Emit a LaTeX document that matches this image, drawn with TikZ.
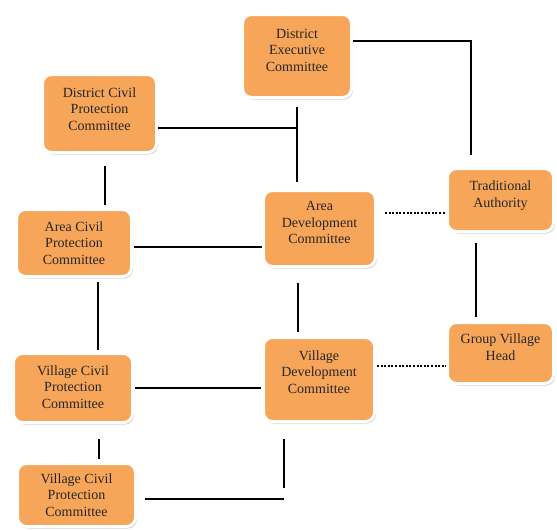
\documentclass[tikz,border=0pt]{standalone}
\usepackage{fontspec}
\setmainfont{Liberation Serif}
\usetikzlibrary{calc,shadows}
\definecolor{boxorange}{RGB}{247,166,89}
\begin{document}
\begin{tikzpicture}[x=1pt,y=-1pt,
        orgbox/.style={draw=white,line width=3pt,fill=boxorange,rounded corners=9pt,
            align=center,text=black!85,inner sep=2pt,text depth=12pt,
            font=\fontsize{14}{16.5}\selectfont,
            drop shadow={shadow xshift=1.5pt,shadow yshift=-2pt,opacity=0.3,fill=black!60}},
        link/.style={line width=2pt},
        tie/.style={line width=2pt,dash pattern=on 2pt off 1.6pt}]
    \useasboundingbox (0,0) rectangle (557,530);

    \node[orgbox,minimum width=109pt,minimum height=83pt] (dec) at (297,56) {District\\Executive\\Committee};
    \node[orgbox,minimum width=114pt,minimum height=78pt,text depth=9pt] (dcpc) at (99.5,113.5) {District Civil\\Protection\\Committee};
    \node[orgbox,minimum width=106pt,minimum height=63pt] (ta) at (500.5,200) {Traditional\\Authority};
    \node[orgbox,minimum width=112pt,minimum height=76pt] (adc) at (319.5,228.5) {Area\\Development\\Committee};
    \node[orgbox,minimum width=115pt,minimum height=67pt,text depth=0pt] (acpc) at (74,243) {Area Civil\\Protection\\Committee};
    \node[orgbox,minimum width=106pt,minimum height=61pt] (gvh) at (500.5,353) {Group Village\\Head};
    \node[orgbox,minimum width=111pt,minimum height=84pt,text depth=15pt] (vdc) at (319,379.5) {Village\\Development\\Committee};
    \node[orgbox,minimum width=119pt,minimum height=69pt,text depth=2pt] (vcpcA) at (73,388) {Village Civil\\Protection\\Committee};
    \node[orgbox,minimum width=118pt,minimum height=63pt,text depth=-12pt] (vcpcB) at (76.5,495) {Village Civil\\Protection\\Committee};

    \coordinate (jdec) at (297,128);
    \coordinate (jvdc) at (284,499);

    \draw[link] ([yshift=15pt]dec.east) -| ($(ta.north)+(-29.5,-12)$);
    \draw[link] ($(dec.south)+(0,8)$) -- ($(adc.north)+(-22.5,-7)$);
    \draw[link] ($(dcpc.east)+(0,14.5)$) -- (jdec);
    \draw[link] ($(dcpc.south)+(5.5,12)$) -- ($(acpc.north)+(31,-3)$);
    \draw[link] ($(acpc.east)+(1,4)$) -- ($(adc.west)+(0,18.5)$);
    \draw[tie] ($(adc.east)+(8,-15.5)$) -- ($(ta.west)+(-1,13)$);
    \draw[link] ($(acpc.south)+(24,4)$) -- ($(vcpcA.north)+(25,-2)$);
    \draw[link] ($(adc.south)+(-21.5,15)$) -- ($(vdc.north)+(-21,-4)$);
    \draw[link] ($(ta.south)+(-24.5,10)$) -- ($(gvh.north)+(-24.5,-4)$);
    \draw[link] ($(vcpcA.east)+(1,0)$) -- ($(vdc.west)+(-1,8.5)$);
    \draw[tie] ($(vdc.east)+(1,-13.5)$) -- ($(gvh.west)+(0,13)$);
    \draw[link] ($(vcpcA.south)+(26,15)$) -- ($(vcpcB.north)+(22.5,-3)$);
    \draw[link] ($(vdc.south)+(-35,16)$) -- ($(jvdc)+(0,-11)$);
    \draw[link] ($(vcpcB.east)+(8,4)$) -- (jvdc);
\end{tikzpicture}
\end{document}
